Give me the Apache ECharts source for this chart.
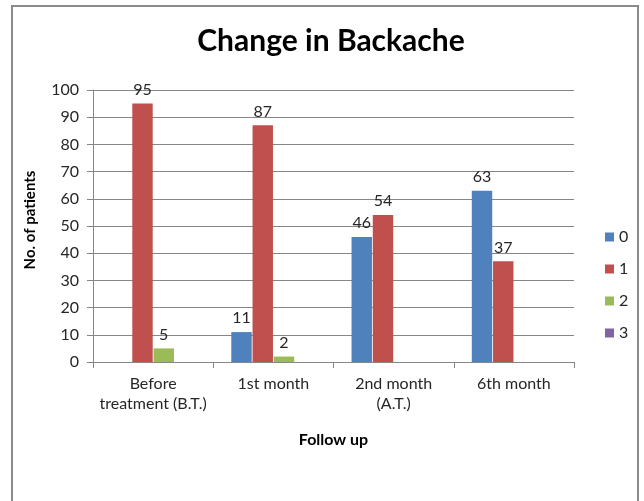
<!DOCTYPE html>
<html>
<head>
<meta charset="utf-8">
<script src="https://cdn.jsdelivr.net/npm/echarts@6/dist/echarts.min.js"></script>
<style>
  html, body { margin: 0; padding: 0; background: #fff; }
  #frame {
    position: absolute; left: 11px; top: 5px; width: 628px; height: 520px;
    border: 2px solid #8a8a8a; box-sizing: border-box;
  }
  #chart { position: absolute; left: 0; top: 0; width: 644px; height: 501px; }
</style>
</head>
<body>
<div id="frame"></div>
<div id="chart"></div>
<script>
// Chart data
const categories = ["Before\ntreatment (B.T.)", "1st month", "2nd month\n(A.T.)", "6th month"];
const seriesNames = ["0", "1", "2", "3"];
const values0 = [null, 11, 46, 63];
const values1 = [95, 87, 54, 37];
const values2 = [5, 2, null, null];
const values3 = [null, null, null, null];
const yTicks = { min: 0, max: 100, interval: 10 };

const colors = ["#4F81BD", "#C0504D", "#9BBB59", "#8064A2"];
const font = 'Lato, "Noto Sans", sans-serif';

const chart = echarts.init(document.getElementById("chart"));

const allValues = [values0, values1, values2, values3];
const series = allValues.map((vals, i) => ({
  name: seriesNames[i],
  type: "bar",
  data: vals,
  barGap: "4%",
  barCategoryGap: "30%",
  itemStyle: { color: colors[i] },
  label: {
    show: true,
    position: "top",
    distance: 6,
    color: "#262626",
    fontSize: 16,
    fontFamily: font,
  },
}));

chart.setOption({
  animation: false,
  color: colors,
  title: {
    text: "Change in Backache",
    left: 326,
    textAlign: "center",
    top: 21,
    textStyle: { fontSize: 30, fontWeight: "bold", color: "#000", fontFamily: font },
  },
  legend: {
    orient: "vertical",
    left: 600,
    top: 224,
    itemWidth: 9,
    itemHeight: 9,
    itemGap: 16,
    icon: "rect",
    textStyle: { fontSize: 16, color: "#262626", fontFamily: font },
  },
  grid: { left: 93, right: 70, top: 90, bottom: 139 },
  xAxis: {
    type: "category",
    data: categories,
    name: "Follow up",
    nameLocation: "middle",
    nameGap: 70,
    nameTextStyle: { fontSize: 16, fontWeight: "bold", color: "#000", fontFamily: font },
    axisLine: { lineStyle: { color: "#868686" } },
    axisTick: { show: true, length: 6, lineStyle: { color: "#868686" } },
    axisLabel: { interval: 0, fontSize: 16, color: "#262626", fontFamily: font, margin: 12, lineHeight: 20 },
  },
  yAxis: {
    type: "value",
    min: yTicks.min,
    max: yTicks.max,
    interval: yTicks.interval,
    name: "No. of patients",
    nameLocation: "middle",
    nameGap: 55,
    nameTextStyle: { fontSize: 15, fontWeight: "bold", color: "#000", fontFamily: font, padding: [0, 0, 0, 12] },
    axisLine: { show: true, lineStyle: { color: "#868686" } },
    axisTick: { show: true, length: 6, lineStyle: { color: "#868686" } },
    axisLabel: { fontSize: 16, color: "#262626", fontFamily: font, margin: 14 },
    splitLine: { lineStyle: { color: "#868686" } },
  },
  series: series,
});
</script>
</body>
</html>
